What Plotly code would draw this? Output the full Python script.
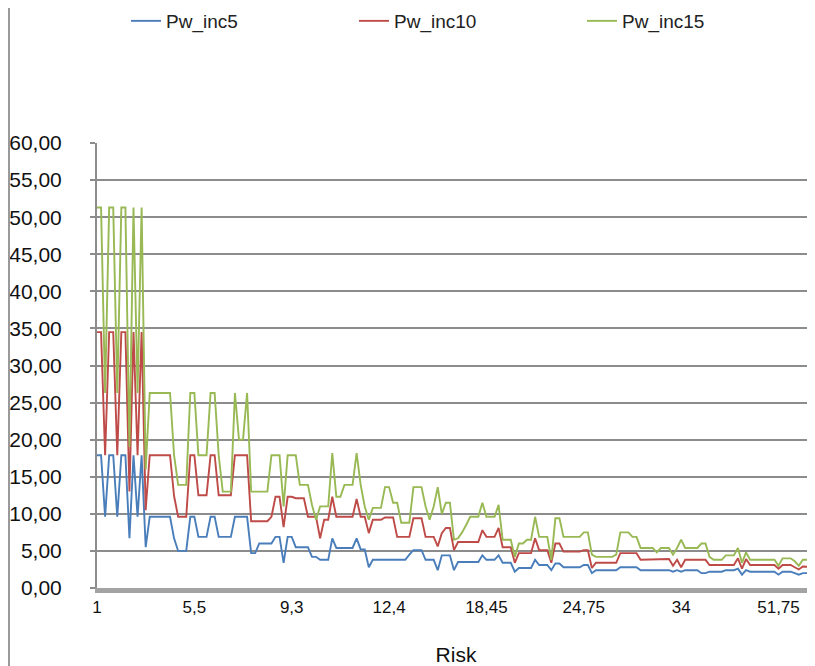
import plotly.graph_objects as go

# ---- data ----
pw_inc5 = [17.9, 17.9, 9.6, 17.9, 17.9, 9.6, 17.9, 17.9, 6.7, 17.9, 9.6, 17.9, 5.5,
           9.6, 9.6, 9.6, 9.6, 9.6, 9.6, 6.7, 5.0, 5.0, 5.0, 9.6, 9.6,
           6.9, 6.9, 6.9, 9.6, 9.6, 6.9, 6.9, 6.9, 6.9, 9.6, 9.6, 9.6, 9.6, 4.7, 4.7,
           6.0, 6.0, 6.0, 6.0, 6.9, 6.9, 3.4, 6.9, 6.9,
           5.5, 5.5, 5.5, 5.5, 4.2, 4.2, 3.8, 3.8, 3.8, 6.7, 5.4, 5.4, 5.4, 5.4, 5.4,
           6.7, 5.2, 5.2, 2.8, 3.8, 3.8, 3.8, 3.8, 3.8,
           3.8, 3.8, 3.8, 3.8, 4.5, 5.1, 5.1, 5.1, 3.8, 3.8, 3.8, 2.4, 4.4, 4.4, 4.4,
           2.4, 3.5, 3.5, 3.5, 3.5, 3.5, 3.5, 4.4, 3.8,
           3.8, 3.8, 4.4, 3.4, 3.4, 3.4, 2.2, 2.7, 2.7, 2.7, 2.7, 3.8, 3.1, 3.1, 3.1,
           2.4, 3.3, 3.3, 2.8, 2.8, 2.8, 2.8, 2.8, 3.1,
           3.1, 2.0, 2.4, 2.4, 2.4, 2.4, 2.4, 2.4, 2.8, 2.8, 2.8, 2.8, 2.8, 2.4, 2.4,
           2.4, 2.4, 2.4, 2.4, 2.4, 2.4, 2.2, 2.4, 2.2,
           2.4, 2.4, 2.4, 2.4, 2.0, 2.0, 2.2, 2.2, 2.2, 2.2, 2.4, 2.4, 2.4, 2.6, 1.8,
           2.4, 2.2, 2.2, 2.2, 2.2, 2.2, 2.2, 2.2, 1.8,
           2.2, 2.2, 2.2, 2.0, 1.8, 2.0, 2.0, 2.0, 2.0]

pw_inc10 = [34.5, 34.5, 17.9, 34.5, 34.5, 17.9, 34.5, 34.5, 13.0, 34.5, 17.9, 34.5, 10.5,
            17.9, 17.9, 17.9, 17.9, 17.9, 17.9, 12.4, 9.6, 9.6, 9.6, 17.9, 17.9,
            12.5, 12.5, 12.5, 17.9, 17.9, 12.5, 12.5, 12.5, 12.5, 17.9, 17.9, 17.9, 17.9, 9.0, 9.0,
            9.0, 9.0, 9.0, 9.6, 12.3, 12.3, 8.2, 12.3, 12.3,
            12.1, 12.1, 12.1, 9.6, 9.6, 9.6, 6.7, 9.2, 9.2, 12.3, 9.6, 9.6, 9.6, 9.6, 9.6,
            12.0, 9.6, 9.6, 7.4, 9.2, 9.2, 9.2, 9.5, 9.5,
            9.5, 6.9, 6.9, 6.9, 6.9, 9.4, 9.4, 9.4, 6.9, 6.9, 6.9, 5.6, 7.4, 8.1, 8.1,
            5.1, 6.2, 6.2, 6.2, 6.2, 6.2, 6.2, 7.8, 6.9,
            6.9, 6.9, 8.1, 5.5, 5.5, 5.5, 3.4, 4.7, 4.7, 4.7, 4.7, 6.7, 5.1, 5.1, 5.1,
            3.4, 6.0, 6.0, 4.9, 4.9, 4.9, 4.9, 4.9, 5.1,
            5.1, 2.7, 3.4, 3.4, 3.4, 3.4, 3.4, 3.4, 4.7, 4.7, 4.7, 4.7, 4.7, 3.8, 3.8,
            3.8, 3.8, 3.9, 3.9, 3.9, 3.9, 3.0, 3.8, 2.8,
            3.8, 3.8, 3.8, 3.8, 3.8, 3.8, 3.1, 3.1, 3.1, 3.1, 3.1, 3.1, 3.1, 4.0, 2.6,
            3.9, 3.1, 3.1, 3.1, 3.1, 3.1, 3.1, 3.1, 2.6,
            3.1, 3.1, 3.1, 2.8, 2.5, 2.9, 2.9, 2.8, 2.8]

pw_inc15 = [51.3, 51.3, 26.3, 51.3, 51.3, 26.3, 51.3, 51.3, 19.0, 51.3, 26.3, 51.3, 16.0,
            26.3, 26.3, 26.3, 26.3, 26.3, 26.3, 17.9, 13.9, 13.9, 13.9, 26.3, 26.3,
            17.9, 17.9, 17.9, 26.3, 26.3, 17.9, 13.0, 13.0, 13.0, 26.3, 20.0, 20.0, 26.3, 13.0, 13.0,
            13.0, 13.0, 13.0, 17.9, 17.9, 17.9, 11.0, 17.9, 17.9,
            17.9, 13.9, 13.9, 13.9, 11.2, 9.2, 11.0, 11.0, 11.0, 18.2, 12.3, 12.3, 13.9, 13.9, 13.9,
            18.2, 13.9, 11.0, 9.2, 10.8, 10.8, 10.8, 13.6, 13.6,
            11.5, 11.5, 8.8, 8.8, 8.8, 13.6, 13.6, 13.6, 11.0, 9.2, 11.0, 13.6, 10.0, 11.5, 11.5,
            6.5, 6.7, 7.5, 8.5, 9.6, 9.6, 9.6, 11.5, 9.6,
            9.6, 9.6, 11.2, 6.5, 6.5, 6.5, 4.2, 6.0, 6.0, 6.5, 6.5, 9.6, 6.9, 6.9, 6.9,
            3.8, 9.4, 9.4, 6.9, 6.9, 6.9, 6.9, 6.9, 7.5,
            7.5, 4.5, 4.2, 4.2, 4.2, 4.2, 4.2, 4.5, 7.5, 7.5, 7.5, 6.9, 6.9, 5.4, 5.4,
            5.4, 5.4, 4.8, 5.4, 5.4, 5.4, 4.5, 5.4, 6.5,
            5.4, 5.4, 5.4, 5.4, 6.0, 6.0, 4.2, 3.8, 3.8, 3.8, 4.4, 4.4, 4.4, 5.4, 3.4,
            4.8, 3.8, 3.8, 3.8, 3.8, 3.8, 3.8, 3.8, 3.0,
            4.0, 4.0, 4.0, 3.6, 3.0, 3.8, 3.8, 3.6, 3.6]

series_names = ["Pw_inc5", "Pw_inc10", "Pw_inc15"]
series_colors = ["#4a7ebb", "#be4b48", "#98b954"]
tick_labels = ["1", "5,5", "9,3", "12,4", "18,45", "24,75", "34", "51,75"]
categories_per_label = 24

risk_index = list(range(len(pw_inc5)))
tick_positions = risk_index[::categories_per_label][:len(tick_labels)]

FONT = "Liberation Sans, Arial, sans-serif"
GRID = "#8c8c8c"

fig = go.Figure()
for name, vals, col in zip(series_names, [pw_inc5, pw_inc10, pw_inc15], series_colors):
    fig.add_trace(go.Scatter(x=risk_index, y=vals, mode="lines", name=name,
                             line=dict(color=col, width=1.9)))

# page body has an 8px margin: the figure starts at (8, 8) in the window
OFF = 8
W, H = 815 - OFF, 666 - OFF
L, R, T, B = 97 - OFF, 0, 143 - OFF, 666 - 588
pw, ph = W - L - R, H - T - B

fig.update_layout(
    width=W, height=H,
    margin=dict(l=L, r=R, t=T, b=B, autoexpand=False),
    paper_bgcolor="white", plot_bgcolor="white",
    separators=",.",
    font=dict(family=FONT, color="#000000"),
    showlegend=True,
    legend=dict(orientation="h", x=(126 - OFF - L) / pw, xanchor="left",
                y=1 + (T + 6) / ph, yanchor="top",
                font=dict(size=19, family=FONT, color="#222222"),
                entrywidth=183, entrywidthmode="pixels",
                itemwidth=30, bgcolor="rgba(0,0,0,0)"),
    xaxis=dict(range=[0, len(risk_index) - 1], tickmode="array",
               tickvals=tick_positions, ticktext=tick_labels,
               showgrid=False, zeroline=False,
               showline=True, linecolor="#a3a3a3", linewidth=5,
               ticks="", tickfont=dict(size=17, family=FONT, color="#111111"),
               title=dict(text="Risk", font=dict(size=21, family=FONT, color="#111111"),
                          standoff=32)),
    yaxis=dict(range=[0, 60], tickmode="linear", tick0=0, dtick=5,
               tickformat=".2f", showgrid=True, gridcolor=GRID, gridwidth=2,
               zeroline=False, showline=True, linecolor=GRID, linewidth=2,
               ticks="outside", ticklen=5, tickcolor=GRID, tickwidth=2,
               ticklabelstandoff=24,
               tickfont=dict(size=21, family=FONT, color="#111111")),
    shapes=[dict(type="line", xref="paper", yref="paper",
                 x0=(1 - L) / pw, x1=(1 - L) / pw, y0=-B / ph, y1=1 + T / ph,
                 line=dict(color="#9a9a9a", width=2))],
)

fig.write_html("out.html")
